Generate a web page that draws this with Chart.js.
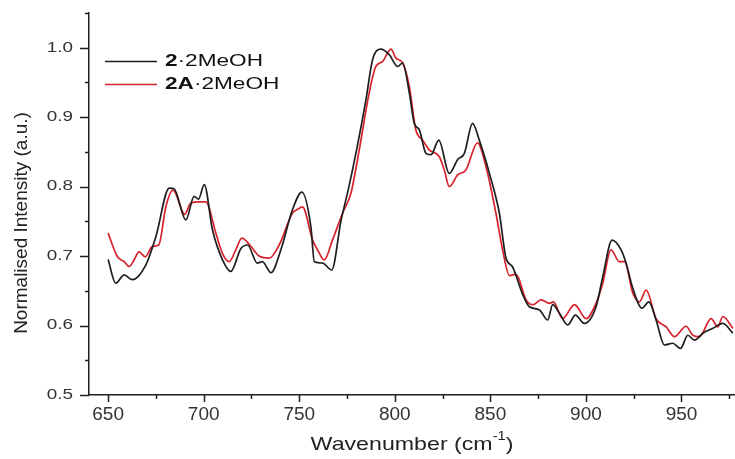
<!DOCTYPE html>
<html>
<head>
<meta charset="utf-8">
<script src="https://cdn.jsdelivr.net/npm/chart.js@4.4.1/dist/chart.umd.min.js"></script>
<style>
  html, body { margin: 0; padding: 0; background: #fff; }
  #wrap { width: 735px; height: 459px; }
</style>
</head>
<body>
<div id="wrap"><canvas id="spec" width="735" height="459"></canvas></div>
<script>
// values (wavenumber, normalised intensity)
const blackX = [650, 654, 658.4, 662.7, 669.7, 675, 682, 684.5, 690.7, 695, 697.3, 700.3, 704.6, 709.8, 714.2, 719.5, 723, 728, 730.7, 735.2, 740.4, 746.5, 751.4, 756.1, 757.9, 762.2, 767, 771.8, 776, 780, 784.9, 788.4, 792.7, 797.1, 801.5, 804.1, 807.6, 810.2, 812.8, 816.3, 819, 823, 828.5, 832.9, 836.4, 840.7, 844.2, 849.5, 854.7, 858.2, 861.5, 866.9, 870.4, 875.7, 880, 882.6, 886.1, 890.5, 894.5, 899.2, 905.3, 908.8, 913.7, 918.4, 921, 924.5, 929.4, 932.9, 936.7, 941.1, 945.4, 949.5, 953.3, 956.8, 961.2, 966.4, 971.6, 976.9];
const blackY = [0.695, 0.661, 0.673, 0.666, 0.687, 0.728, 0.798, 0.797, 0.752, 0.786, 0.782, 0.803, 0.738, 0.695, 0.678, 0.711, 0.716, 0.69, 0.692, 0.676, 0.709, 0.767, 0.792, 0.742, 0.692, 0.69, 0.68, 0.75, 0.80, 0.853, 0.925, 0.983, 0.998, 0.99, 0.973, 0.978, 0.935, 0.891, 0.882, 0.848, 0.846, 0.867, 0.819, 0.839, 0.848, 0.891, 0.867, 0.819, 0.762, 0.697, 0.685, 0.645, 0.627, 0.6225, 0.608, 0.63, 0.618, 0.601, 0.615, 0.603, 0.627, 0.67, 0.723, 0.709, 0.69, 0.654, 0.625, 0.634, 0.608, 0.572, 0.5745, 0.567, 0.586, 0.579, 0.589, 0.596, 0.603, 0.589];

const redX = [650, 654.9, 658.4, 661, 663.6, 666.2, 669.4, 673.2, 676.5, 680.2, 684, 688.9, 690, 693.2, 697.7, 701.1, 706.4, 709.8, 713.4, 716.8, 720, 724.7, 729, 734.3, 739.5, 746.5, 749, 751.7, 757, 759.6, 763.1, 767.4, 772.7, 777, 781.4, 786.6, 790.1, 793.6, 798, 800.6, 804.1, 807.6, 811, 814.6, 818, 823.3, 825.9, 828.5, 832.9, 837.2, 843.3, 847.7, 852.9, 856.4, 860, 863.4, 868.7, 872.2, 876.5, 880.9, 883, 887.8, 894, 900.1, 905.3, 908.8, 913.1, 917.5, 920.2, 924.5, 928, 931.5, 936.7, 942, 946.3, 952.4, 955.9, 959.4, 965.5, 969, 971.6, 976.9];
const redY = [0.733, 0.699, 0.692, 0.685, 0.6945, 0.706, 0.699, 0.714, 0.716, 0.771, 0.795, 0.764, 0.76, 0.776, 0.778, 0.778, 0.733, 0.704, 0.692, 0.709, 0.726, 0.714, 0.70, 0.697, 0.716, 0.762, 0.767, 0.771, 0.723, 0.709, 0.6945, 0.723, 0.762, 0.79, 0.853, 0.935, 0.973, 0.98, 0.998, 0.985, 0.978, 0.944, 0.882, 0.867, 0.853, 0.843, 0.824, 0.80, 0.817, 0.824, 0.863, 0.829, 0.762, 0.709, 0.672, 0.674, 0.637, 0.63, 0.637, 0.632, 0.634, 0.61, 0.63, 0.61, 0.632, 0.661, 0.709, 0.692, 0.692, 0.647, 0.634, 0.651, 0.61, 0.598, 0.584, 0.599, 0.586, 0.584, 0.61, 0.598, 0.613, 0.596];

const xMajor = [650, 700, 750, 800, 850, 900, 950];
const xMinor = [675, 725, 775, 825, 875, 925, 975];
const yMajor = [0.5, 0.6, 0.7, 0.8, 0.9, 1.0];
const yMinor = [0.55, 0.65, 0.75, 0.85, 0.95, 1.05];

const seriesNames = [['2', '·2MeOH'], ['2A', '·2MeOH']];
const BLACK = '#1e1e1e';
const RED = '#d6232c';
const FONT = '"Liberation Sans", Arial, sans-serif';

function toPoints(xs, ys) {
    return xs.map((x, i) => ({ x: x, y: ys[i] }));
}

// draws text squeezed/stretched horizontally like the source figure
function stretchText(ctx, text, x, y, font, sx, align) {
    ctx.save();
    ctx.font = font;
    const w = ctx.measureText(text).width * sx;
    let left = x;
    if (align === 'right') left = x - w;
    if (align === 'center') left = x - w / 2;
    ctx.translate(left, y);
    ctx.scale(sx, 1);
    ctx.textAlign = 'left';
    ctx.fillText(text, 0, 0);
    ctx.restore();
    return w;
}

const decorations = {
    id: 'decorations',
    afterDraw(chart) {
        const ctx = chart.ctx;
        const xs = chart.scales.x, ys = chart.scales.y;
        const base = chart.chartArea.bottom, left = chart.chartArea.left;
        ctx.save();
        ctx.strokeStyle = BLACK;
        ctx.fillStyle = BLACK;
        ctx.lineWidth = 1.5;

        // tick marks
        ctx.beginPath();
        xMajor.forEach(v => { const p = Math.round(xs.getPixelForValue(v)) + 0.5; ctx.moveTo(p, base); ctx.lineTo(p, base + 7); });
        xMinor.forEach(v => { const p = Math.round(xs.getPixelForValue(v)) + 0.5; ctx.moveTo(p, base); ctx.lineTo(p, base + 4); });
        yMajor.forEach(v => { const p = Math.round(ys.getPixelForValue(v)) + 0.5; ctx.moveTo(left, p); ctx.lineTo(left - 9, p); });
        yMinor.forEach(v => { const p = Math.round(ys.getPixelForValue(v)) + 0.5; ctx.moveTo(left, p); ctx.lineTo(left - 4, p); });
        ctx.stroke();

        // tick labels
        ctx.textBaseline = 'middle';
        ctx.fillStyle = '#333';
        xMajor.forEach(v => stretchText(ctx, String(v), xs.getPixelForValue(v), base + 20, '19px ' + FONT, 1.0, 'center'));
        yMajor.forEach(v => stretchText(ctx, v.toFixed(1), left - 16, ys.getPixelForValue(v), '14px ' + FONT, 1.35, 'right'));

        // axis titles
        ctx.fillStyle = '#222';
        const tf = '19px ' + FONT;
        ctx.font = tf;
        const p1 = 'Wavenumber (cm', p2 = '-1', p3 = ')';
        const sx = 1.22;
        ctx.font = tf; const w1 = ctx.measureText(p1).width * sx;
        ctx.font = '12px ' + FONT; const w2 = ctx.measureText(p2).width * sx;
        ctx.font = tf; const w3 = ctx.measureText(p3).width * sx;
        let tx = (chart.chartArea.left + chart.chartArea.right) / 2 - (w1 + w2 + w3) / 2;
        const ty = 445;
        tx += stretchText(ctx, p1, tx, ty, tf, sx, 'left');
        tx += stretchText(ctx, p2, tx, ty - 8, '12px ' + FONT, sx, 'left');
        stretchText(ctx, p3, tx, ty, tf, sx, 'left');

        ctx.save();
        ctx.translate(22, 223);
        ctx.rotate(-Math.PI / 2);
        ctx.textAlign = 'center';
        ctx.font = tf;
        ctx.fillText('Normalised Intensity (a.u.)', 0, 0);
        ctx.restore();

        // legend
        const colors = [BLACK, RED];
        const rows = [61, 84];
        rows.forEach((ry, i) => {
            ctx.strokeStyle = colors[i];
            ctx.lineWidth = 1.6;
            ctx.beginPath();
            ctx.moveTo(105, ry + 0.5);
            ctx.lineTo(157, ry + 0.5);
            ctx.stroke();
            ctx.fillStyle = '#111';
            let lx = 165;
            lx += stretchText(ctx, seriesNames[i][0], lx, ry, 'bold 17px ' + FONT, 1.33, 'left');
            stretchText(ctx, seriesNames[i][1], lx, ry, '17px ' + FONT, 1.33, 'left');
        });
        ctx.restore();
    }
};

new Chart(document.getElementById('spec'), {
    type: 'line',
    data: {
        datasets: [
            { label: '2·2MeOH', data: toPoints(blackX, blackY), borderColor: BLACK, borderWidth: 1.7, pointRadius: 0, cubicInterpolationMode: 'monotone' },
            { label: '2A·2MeOH', data: toPoints(redX, redY), borderColor: RED, borderWidth: 1.7, pointRadius: 0, cubicInterpolationMode: 'monotone' }
        ]
    },
    options: {
        responsive: false,
        animation: false,
        layout: { padding: { top: 13, left: 0, right: 0, bottom: 0 } },
        plugins: { legend: { display: false }, tooltip: { enabled: false } },
        scales: {
            x: {
                type: 'linear', min: 640, max: 978,
                grid: { display: false },
                border: { display: true, color: BLACK, width: 1.5 },
                ticks: { display: false },
                afterFit(scale) { scale.height = 64; }
            },
            y: {
                min: 0.5, max: 1.05,
                grid: { display: false },
                border: { display: true, color: BLACK, width: 1.5 },
                ticks: { display: false },
                afterFit(scale) { scale.width = 89; }
            }
        }
    },
    plugins: [decorations]
});
</script>
</body>
</html>
